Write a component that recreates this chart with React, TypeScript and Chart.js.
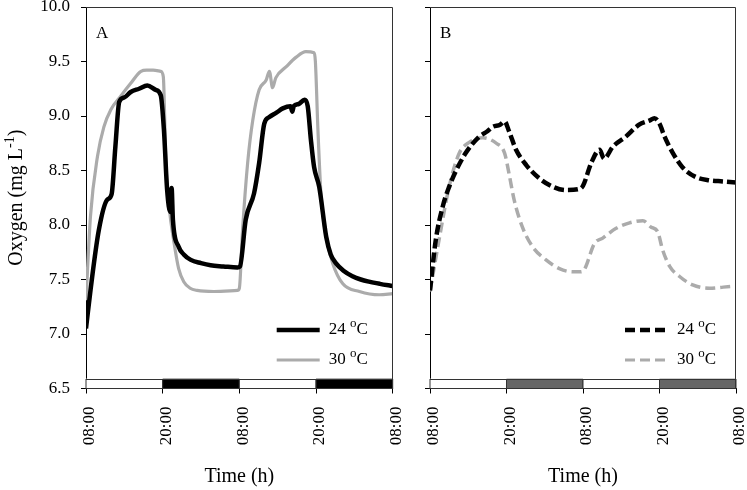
import { useEffect, useRef } from "react";
import { Chart, registerables } from "chart.js";

Chart.register(...registerables);

// ---------- data ----------
const hourTicks = [0, 12, 24, 36, 48];
const tickLabels = ["08:00", "20:00", "08:00", "20:00", "08:00"];
const yTicks = [6.5, 7.0, 7.5, 8.0, 8.5, 9.0, 9.5, 10.0];
const periodStart = [0, 12, 24, 36];
const periodEnd = [12, 24, 36, 48];
const periodDark = [false, true, false, true];
const barBottom = 6.5;
const barTop = 6.59;
const seriesTemps = ["24", "30"];

// Panel A, 24 oC
const timeA24 = [0, 0.7, 2.0, 3.3, 4.0, 4.6, 5.2, 6.0, 7.0, 8.3, 9.6, 10.9, 11.7, 12.2, 12.7, 13.2, 13.4, 13.6, 14.5, 15.3, 16.4, 18.0, 19.5, 21.5, 23.7, 24.1, 25.0, 26.3, 27.1, 27.9, 28.7, 29.8, 30.8, 32.0, 32.3, 32.5, 33.3, 34.2, 34.7, 35.2, 35.7, 36.5, 37.6, 38.3, 39.1, 40.3, 41.7, 43.0, 44.3, 46.0, 48];
const oxyA24 = [7.05, 7.40, 7.95, 8.23, 8.28, 8.72, 9.13, 9.17, 9.22, 9.25, 9.28, 9.24, 9.19, 8.87, 8.32, 8.12, 8.34, 8.05, 7.80, 7.73, 7.68, 7.65, 7.63, 7.62, 7.61, 7.62, 8.05, 8.29, 8.57, 8.93, 8.99, 9.03, 9.07, 9.09, 9.04, 9.09, 9.11, 9.15, 9.09, 8.78, 8.53, 8.35, 7.89, 7.73, 7.65, 7.58, 7.53, 7.50, 7.48, 7.46, 7.44];

// Panel A, 30 oC
const timeA30 = [0, 0.7, 1.8, 2.8, 3.9, 5.4, 7.0, 8.6, 9.5, 10.5, 11.7, 12.1, 12.5, 13.0, 13.8, 14.5, 15.3, 16.3, 17.4, 20.0, 23.7, 24.0, 24.5, 25.3, 26.1, 27.1, 28.2, 28.7, 29.2, 29.7, 31.3, 32.9, 34.4, 35.7, 35.9, 36.3, 36.8, 37.6, 38.6, 40.2, 42.8, 45.9, 48];
const oxyA30 = [7.31, 8.08, 8.63, 8.90, 9.06, 9.18, 9.30, 9.41, 9.42, 9.42, 9.41, 9.36, 8.57, 8.17, 7.83, 7.60, 7.48, 7.42, 7.40, 7.39, 7.40, 7.42, 7.95, 8.57, 8.96, 9.24, 9.33, 9.41, 9.26, 9.35, 9.45, 9.54, 9.59, 9.58, 9.50, 8.87, 8.26, 7.89, 7.65, 7.46, 7.39, 7.36, 7.37];

// Panel B, 24 oC
const timeB24 = [0, 0.9, 2.0, 3.0, 4.1, 5.6, 7.7, 9.0, 9.8, 11.0, 11.7, 12.4, 13.5, 15.1, 17.1, 19.3, 21.3, 23.4, 24.0, 25.3, 26.6, 27.3, 28.7, 30.7, 32.8, 34.5, 35.2, 36.0, 36.8, 38.1, 39.6, 41.7, 43.8, 45.9, 48];
const oxyB24 = [7.40, 7.86, 8.17, 8.35, 8.50, 8.66, 8.81, 8.86, 8.90, 8.92, 8.95, 8.86, 8.69, 8.55, 8.43, 8.35, 8.32, 8.33, 8.36, 8.57, 8.69, 8.61, 8.72, 8.81, 8.92, 8.96, 8.98, 8.93, 8.81, 8.66, 8.53, 8.44, 8.41, 8.40, 8.39];

// Panel B, 30 oC
const timeB30 = [0, 1.5, 3.0, 4.6, 6.2, 8.3, 10.4, 11.7, 12.4, 13.2, 14.5, 16.1, 18.2, 20.3, 22.4, 23.6, 24.2, 25.8, 27.1, 29.2, 31.3, 33.4, 34.7, 35.7, 36.5, 37.6, 39.1, 41.2, 43.8, 46.0, 48];
const oxyB30 = [7.39, 7.89, 8.35, 8.66, 8.76, 8.80, 8.75, 8.66, 8.47, 8.23, 7.98, 7.80, 7.68, 7.60, 7.57, 7.57, 7.59, 7.83, 7.88, 7.97, 8.02, 8.04, 7.98, 7.94, 7.77, 7.62, 7.53, 7.45, 7.42, 7.43, 7.44];

// ---------- styles ----------
const FONT = "'Liberation Serif', 'Times New Roman', serif";
const BLACK = "#000000";
const GREY = "#ababab";

type PanelCfg = {
  letter: string;
  t1: number[]; v1: number[];
  t2: number[]; v2: number[];
  dashed: boolean;
  darkColor: string;
  yLabels: boolean;
  yWidth: number;
  padRight: number;
  legendOffset: number;
  yTitle: boolean;
};

const zip = (t: number[], v: number[]) => t.map((x, i) => ({ x, y: v[i] }));

function decorPlugin(cfg: PanelCfg) {
  return {
    id: "decor" + cfg.letter,
    afterDatasetsDraw(chart: any) {
      const { ctx, chartArea, scales } = chart;
      const xs = scales.x;
      const ys = scales.y;
      ctx.save();
      // light/dark bar
      const yb0 = ys.getPixelForValue(barTop);
      const yb1 = ys.getPixelForValue(barBottom);
      for (let i = 0; i < periodStart.length; i++) {
        const x0 = xs.getPixelForValue(periodStart[i]);
        const x1 = xs.getPixelForValue(periodEnd[i]);
        ctx.fillStyle = periodDark[i] ? cfg.darkColor : "#ffffff";
        ctx.fillRect(x0, yb0, x1 - x0, yb1 - yb0);
        ctx.strokeStyle = "#333333";
        ctx.lineWidth = 1;
        ctx.strokeRect(x0, Math.round(yb0) + 0.5, x1 - x0, yb1 - Math.round(yb0) - 0.5);
      }
      // frame (top + right)
      ctx.strokeStyle = "#333333";
      ctx.lineWidth = 1;
      ctx.beginPath();
      const top = Math.round(chartArea.top) + 0.5;
      const right = Math.round(chartArea.right) - 0.5;
      ctx.moveTo(chartArea.left, top);
      ctx.lineTo(right, top);
      ctx.lineTo(right, chartArea.bottom);
      ctx.stroke();

      // legend
      const lx = chartArea.right - cfg.legendOffset;
      const rows = [chartArea.bottom - 58.5, chartArea.bottom - 28.5];
      const colors = [BLACK, GREY];
      const widths = [4.5, 3.2];
      for (let i = 0; i < 2; i++) {
        ctx.beginPath();
        ctx.strokeStyle = colors[i];
        ctx.lineWidth = widths[i];
        ctx.setLineDash(cfg.dashed ? [10, 5] : []);
        ctx.moveTo(lx, rows[i]);
        ctx.lineTo(lx + 43, rows[i]);
        ctx.stroke();
        ctx.setLineDash([]);
        ctx.fillStyle = "#000";
        ctx.textBaseline = "middle";
        ctx.textAlign = "left";
        let tx = lx + 52;
        ctx.font = `17px ${FONT}`;
        const main = seriesTemps[i] + " ";
        ctx.fillText(main, tx, rows[i]);
        tx += ctx.measureText(main).width;
        ctx.font = `13px ${FONT}`;
        ctx.fillText("o", tx, rows[i] - 6);
        tx += ctx.measureText("o").width;
        ctx.font = `17px ${FONT}`;
        ctx.fillText("C", tx, rows[i]);
      }

      // panel letter
      ctx.font = `17px ${FONT}`;
      ctx.textBaseline = "alphabetic";
      ctx.textAlign = "left";
      ctx.fillText(cfg.letter, chartArea.left + 10, chartArea.top + 31);

      // x title
      ctx.font = `20px ${FONT}`;
      ctx.textAlign = "center";
      ctx.fillText("Time (h)", (chartArea.left + chartArea.right) / 2, 482);

      // y title
      if (cfg.yTitle) {
        const cy = (chartArea.top + chartArea.bottom) / 2;
        ctx.translate(17, cy);
        ctx.rotate(-Math.PI / 2);
        ctx.textAlign = "left";
        ctx.textBaseline = "middle";
        const p1 = "Oxygen (mg L";
        const p2 = "-1";
        const p3 = ")";
        ctx.font = `20px ${FONT}`;
        const w1 = ctx.measureText(p1).width;
        const w3 = ctx.measureText(p3).width;
        ctx.font = `14px ${FONT}`;
        const w2 = ctx.measureText(p2).width;
        let x = -(w1 + w2 + w3) / 2;
        ctx.font = `20px ${FONT}`;
        ctx.fillText(p1, x, 0);
        x += w1;
        ctx.font = `14px ${FONT}`;
        ctx.fillText(p2, x, -7);
        x += w2;
        ctx.font = `20px ${FONT}`;
        ctx.fillText(p3, x, 0);
      }
      ctx.restore();
    },
  };
}

function makeChart(canvas: HTMLCanvasElement, cfg: PanelCfg) {
  return new Chart(canvas, {
    type: "line",
    data: {
      datasets: [
        {
          label: seriesTemps[0],
          data: zip(cfg.t1, cfg.v1),
          borderColor: BLACK,
          borderWidth: 4.5,
          borderDash: cfg.dashed ? [10, 4] : [],
          pointRadius: 0,
          cubicInterpolationMode: "monotone",
          fill: false,
        },
        {
          label: seriesTemps[1],
          data: zip(cfg.t2, cfg.v2),
          borderColor: GREY,
          borderWidth: cfg.dashed ? 3.5 : 3.2,
          borderDash: cfg.dashed ? [10, 5] : [],
          pointRadius: 0,
          cubicInterpolationMode: "monotone",
          fill: false,
        },
      ],
    },
    options: {
      animation: false,
      responsive: false,
      maintainAspectRatio: false,
      events: [],
      layout: { padding: { left: 0, right: cfg.padRight, top: 7, bottom: 0 } },
      plugins: { legend: { display: false }, tooltip: { enabled: false } },
      scales: {
        x: {
          type: "linear",
          min: 0,
          max: 48,
          afterBuildTicks: (s: any) => {
            s.ticks = hourTicks.map((v) => ({ value: v }));
          },
          afterFit: (s: any) => {
            s.height = 101.5;
            s.paddingLeft = 0;
            s.paddingRight = 0;
          },
          ticks: {
            autoSkip: false,
            minRotation: 90,
            maxRotation: 90,
            padding: 13,
            labelOffset: 4,
            color: "#000",
            font: { family: FONT, size: 17 },
            callback: (_v: any, i: number) => tickLabels[i],
          },
          grid: { drawOnChartArea: false, drawTicks: true, tickLength: 5, color: "#000" },
          border: { display: true, color: "#000", width: 1 },
        },
        y: {
          type: "linear",
          min: 6.5,
          max: 10,
          afterBuildTicks: (s: any) => {
            s.ticks = yTicks.map((v) => ({ value: v }));
          },
          afterFit: (s: any) => {
            s.width = cfg.yWidth;
            s.paddingTop = 0;
            s.paddingBottom = 0;
          },
          ticks: {
            display: cfg.yLabels,
            padding: 11,
            color: "#000",
            font: { family: FONT, size: 17 },
            callback: (v: any) => Number(v).toFixed(1),
          },
          grid: { drawOnChartArea: false, drawTicks: true, tickLength: 5, color: "#000" },
          border: { display: true, color: "#000", width: 1 },
        },
      },
    },
    plugins: [decorPlugin(cfg)],
  } as any);
}

const cfgA: PanelCfg = {
  letter: "A",
  t1: timeA24, v1: oxyA24, t2: timeA30, v2: oxyA30,
  dashed: false, darkColor: "#000000",
  yLabels: true, yWidth: 86, padRight: 410 - 392.7,
  legendOffset: 116, yTitle: true,
};
const cfgB: PanelCfg = {
  letter: "B",
  t1: timeB24, v1: oxyB24, t2: timeB30, v2: oxyB30,
  dashed: true, darkColor: "#666666",
  yLabels: false, yWidth: 20, padRight: 11,
  legendOffset: 111, yTitle: false,
};

export default function App() {
  const refA = useRef<HTMLCanvasElement>(null);
  const refB = useRef<HTMLCanvasElement>(null);
  useEffect(() => {
    const a = makeChart(refA.current!, cfgA);
    const b = makeChart(refB.current!, cfgB);
    return () => {
      a.destroy();
      b.destroy();
    };
  }, []);
  return (
    <div style={{ position: "fixed", left: 0, top: 0, width: 747, height: 490, background: "#fff" }}>
      <canvas ref={refA} width={410} height={490} style={{ position: "absolute", left: 0, top: 0, width: 410, height: 490 }} />
      <canvas ref={refB} width={337} height={490} style={{ position: "absolute", left: 410, top: 0, width: 337, height: 490 }} />
    </div>
  );
}
